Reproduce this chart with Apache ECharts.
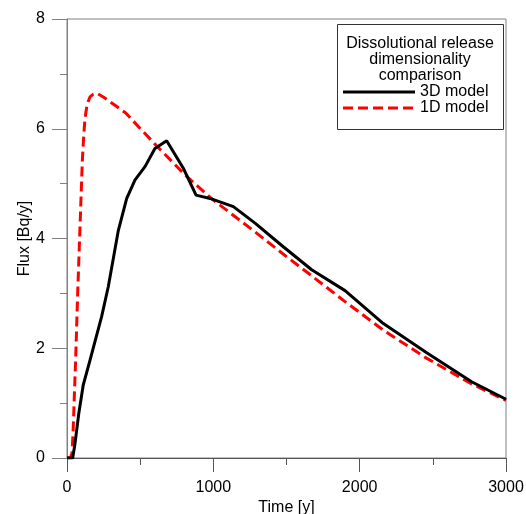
<!DOCTYPE html>
<html>
<head>
	<meta charset="utf-8">
	<title></title>
	<script src="https://cdn.jsdelivr.net/npm/echarts@6/dist/echarts.min.js"></script>
	<style>
		html, body { margin: 0; padding: 0; background: #fff; }
		#chart { width: 526px; height: 514px; }
	</style>
</head>
<body>
	<div id="chart"></div>
	<script>
		// values
		var time3D = [0, 39, 55, 80, 111, 157, 237, 282, 351, 408, 465, 533, 601, 681, 795, 882, 977, 1137, 1285, 1478, 1672, 1900, 2162, 2458, 2765, 3000];
		var flux3D = [0, 0, 0.27, 0.8, 1.33, 1.78, 2.58, 3.12, 4.15, 4.73, 5.07, 5.31, 5.64, 5.78, 5.28, 4.79, 4.73, 4.58, 4.28, 3.85, 3.43, 3.05, 2.45, 1.92, 1.39, 1.07];

		var time1D = [0, 25, 35, 43, 51, 59, 73, 89, 105, 115, 123, 138, 157, 180, 203, 248, 400, 601, 806, 1000, 1182, 1285, 1500, 1672, 1900, 2162, 2450, 2765, 3000];
		var flux1D = [0, 0.01, 0.1, 0.57, 1.2, 1.79, 3.0, 4.22, 5.43, 5.9, 6.19, 6.45, 6.58, 6.63, 6.65, 6.58, 6.29, 5.72, 5.16, 4.70, 4.33, 4.12, 3.67, 3.32, 2.85, 2.33, 1.83, 1.35, 1.05];

		var legendTitle = ['Dissolutional release', 'dimensionality', 'comparison'];
		var seriesNames = ['3D model', '1D model'];

		function pairs(xs, ys) {
			var out = [];
			for (var i = 0; i < xs.length; i++) out.push([xs[i], ys[i]]);
			return out;
		}

		var chart = echarts.init(document.getElementById('chart'));
		var font = 'Liberation Sans, Arial, sans-serif';

		// legend box drawn by hand
		var legendParts = [{
			type: 'rect',
			shape: { x: 337.5, y: 24.5, width: 166, height: 105 },
			style: { fill: '#fff', stroke: '#333', lineWidth: 1 },
			z: 10
		}];
		legendTitle.forEach(function (s, i) {
			legendParts.push({
				type: 'text', z: 11,
				style: { text: s, x: 420, y: 44 + i * 16, align: 'center', verticalAlign: 'middle', fill: '#000', font: '16px ' + font }
			});
		});
		var legendStyles = [
			{ stroke: '#000', lineWidth: 3 },
			{ stroke: '#ff0000', lineWidth: 3, lineDash: [10, 5] }
		];
		seriesNames.forEach(function (s, i) {
			var yy = 92 + i * 16;
			legendParts.push({
				type: 'line', z: 11,
				shape: { x1: 343, y1: yy, x2: 415, y2: yy },
				style: legendStyles[i]
			});
			legendParts.push({
				type: 'text', z: 11,
				style: { text: s, x: 420, y: yy, align: 'left', verticalAlign: 'middle', fill: '#000', font: '16px ' + font }
			});
		});

		var option = {
			animation: false,
			textStyle: { fontFamily: font },
			grid: { left: 67, right: 20, top: 19, bottom: 56, outerBoundsMode: 'none', show: true, borderColor: '#808080', borderWidth: 1 },
			xAxis: [{
				type: 'value', min: 0, max: 3000, interval: 1000,
				name: 'Time [y]', nameLocation: 'middle', nameGap: 42, nameMoveOverlap: false,
				nameTextStyle: { color: '#000', fontSize: 16 },
				axisLine: { show: true, lineStyle: { color: '#555', width: 1 } },
				axisTick: { show: true, inside: false, length: 14, lineStyle: { color: '#555' } },
				minorTick: { show: true, splitNumber: 2, length: 7, lineStyle: { color: '#555' } },
				axisLabel: { color: '#000', fontSize: 16, margin: 22, formatter: function (v) { return String(v); } },
				splitLine: { show: false }
			}],
			yAxis: [{
				type: 'value', min: 0, max: 8, interval: 2,
				name: 'Flux [Bq/y]', nameLocation: 'middle', nameGap: 34, nameMoveOverlap: false,
				nameTextStyle: { color: '#000', fontSize: 16 },
				axisLine: { show: true, lineStyle: { color: '#808080', width: 1 } },
				axisTick: { show: true, inside: false, length: 15, lineStyle: { color: '#808080' } },
				minorTick: { show: true, splitNumber: 2, length: 7, lineStyle: { color: '#808080' } },
				axisLabel: { color: '#000', fontSize: 16, margin: 22 },
				splitLine: { show: false }
			}],
			graphic: legendParts,
			series: [{
				name: seriesNames[0], type: 'line', symbol: 'none',
				data: pairs(time3D, flux3D),
				lineStyle: { color: '#000', width: 3 },
				z: 3
			}, {
				name: seriesNames[1], type: 'line', symbol: 'none',
				data: pairs(time1D, flux1D),
				lineStyle: { color: '#ff0000', width: 3, type: [10, 5] },
				z: 2
			}]
		};
		chart.setOption(option);
	</script>
</body>
</html>
